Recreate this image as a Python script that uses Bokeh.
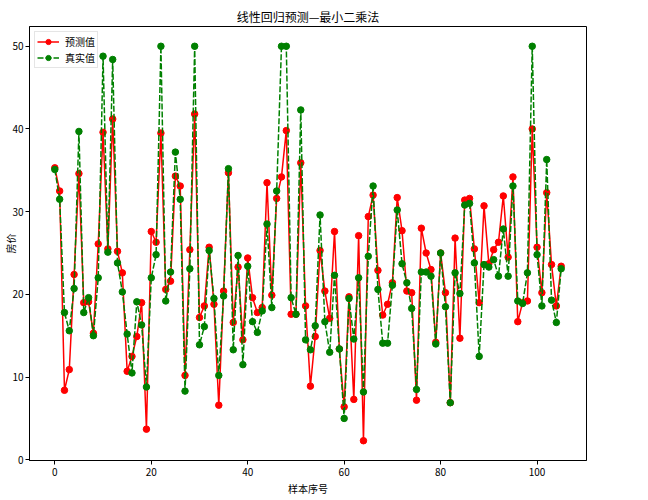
from bokeh.plotting import figure
from bokeh.models import Range1d, Legend, LegendItem, FixedTicker
from bokeh.embed import file_html
from bokeh.resources import INLINE

pred = [35.3, 32.5, 8.4, 10.9, 22.4, 34.6, 19.0, 19.1, 15.3, 26.1,
        39.6, 25.5, 41.2, 25.2, 22.6, 10.7, 12.5, 14.9, 19.0, 3.7,
        27.6, 26.3, 39.5, 20.6, 21.6, 34.3, 33.1, 10.2, 25.4, 41.8,
        17.2, 18.6, 25.7, 18.8, 6.6, 20.4, 34.7, 16.6, 23.3, 14.5,
        24.4, 19.6, 17.8, 18.4, 33.5, 19.9, 31.6, 34.2, 39.8, 17.6,
        17.6, 35.9, 18.6, 8.9, 14.9, 25.3, 20.4, 17.1, 27.6, 13.4,
        6.4, 19.7, 7.3, 27.1, 2.3, 29.4, 32.0, 22.9, 17.5, 18.8,
        21.4, 31.7, 27.7, 20.4, 20.2, 7.2, 28.0, 25.0, 23.0, 14.2,
        25.0, 20.2, 6.9, 26.8, 14.7, 31.4, 31.6, 25.5, 19.0, 30.7,
        23.7, 25.4, 26.3, 31.9, 24.5, 34.2, 16.7, 19.0, 19.2, 40.0,
        25.7, 20.2, 32.3, 23.6, 18.6, 23.4]

true = [35.1, 31.5, 17.8, 15.6, 20.7, 39.7, 17.8, 19.6, 15.0, 22.0,
        48.8, 25.1, 48.4, 23.8, 20.3, 15.2, 10.5, 19.1, 16.3, 8.8,
        22.0, 24.8, 50.0, 19.2, 22.7, 37.2, 31.5, 8.3, 23.1, 50.0,
        13.9, 16.1, 25.3, 19.5, 10.2, 19.8, 35.2, 13.3, 24.7, 11.5,
        23.4, 16.7, 15.4, 18.0, 28.5, 18.4, 32.5, 50.0, 50.0, 19.6,
        17.6, 42.3, 14.5, 13.3, 16.2, 29.6, 16.7, 13.0, 22.3, 13.4,
        5.0, 19.5, 14.6, 22.0, 8.2, 24.6, 33.1, 20.6, 14.1, 14.1,
        21.1, 30.2, 23.7, 21.4, 18.3, 8.5, 22.7, 22.7, 22.2, 14.0,
        25.0, 18.5, 6.9, 22.6, 20.1, 30.8, 31.0, 23.8, 12.5, 23.6,
        23.3, 24.2, 22.2, 27.9, 22.2, 33.1, 19.2, 18.9, 22.6, 50.0,
        24.8, 18.6, 36.3, 19.3, 16.6, 23.1]

idx = list(range(len(pred)))
x_ticks = [0, 20, 40, 60, 80, 100]
y_ticks = [0, 10, 20, 30, 40, 50]

title_text = "线性回归预测—最小二乘法"
x_label = "样本序号"
y_label = "房价"
pred_label = "预测值"
true_label = "真实值"

FONT = "Noto Sans CJK SC"

p = figure(width=648, height=500, output_backend="svg", toolbar_location=None,
           x_range=Range1d(-5.25, 110.25), y_range=Range1d(-0.09, 52.39),
           min_border_left=29, min_border_right=62, min_border_bottom=40, min_border_top=26)

p.title.text = title_text
p.title.align = "center"
p.title.text_font = FONT
p.title.text_font_size = "12px"
p.title.text_font_style = "normal"
p.title.text_color = "black"
p.title.standoff = 4

p.grid.visible = False
p.outline_line_color = "black"
p.outline_line_alpha = 1.0
p.outline_line_width = 1

for ax in (p.xaxis[0], p.yaxis[0]):
    ax.axis_line_color = "black"
    ax.major_tick_line_color = "black"
    ax.major_tick_out = 4
    ax.major_tick_in = 0
    ax.minor_tick_line_color = None
    ax.major_label_text_font = FONT
    ax.major_label_text_font_size = "10px"
    ax.major_label_text_color = "black"
    ax.major_label_standoff = 3
    ax.axis_label_text_font = FONT
    ax.axis_label_text_font_size = "10px"
    ax.axis_label_text_font_style = "normal"
    ax.axis_label_text_color = "black"
    ax.axis_label_standoff = 2

p.yaxis.major_label_standoff = 2
p.yaxis.axis_label_standoff = -9

p.xaxis.ticker = FixedTicker(ticks=x_ticks)
p.yaxis.ticker = FixedTicker(ticks=y_ticks)
p.xaxis.axis_label = x_label
p.yaxis.axis_label = y_label

red = "#ff0000"
green = "#008000"

l1 = p.line(idx, pred, line_color=red, line_width=1.5)
s1 = p.scatter(idx, pred, size=6.5, fill_color=red, line_color=red, marker="circle")
l2 = p.line(idx, true, line_color=green, line_width=1.5, line_dash="6 2")
s2 = p.scatter(idx, true, size=6.5, fill_color=green, line_color=green, marker="circle")

legend = Legend(items=[LegendItem(label=pred_label, renderers=[l1, s1]),
                       LegendItem(label=true_label, renderers=[l2, s2])],
                location="top_left")
legend.label_text_font = FONT
legend.label_text_font_size = "10px"
legend.label_text_color = "black"
legend.border_line_color = "#cccccc"
legend.background_fill_alpha = 0.8
legend.margin = 5
legend.padding = 2
legend.spacing = 1
legend.glyph_width = 22
legend.glyph_height = 13
legend.label_height = 13
legend.label_standoff = 6
p.add_layout(legend)

open("out.html", "w").write(file_html(p, INLINE))
